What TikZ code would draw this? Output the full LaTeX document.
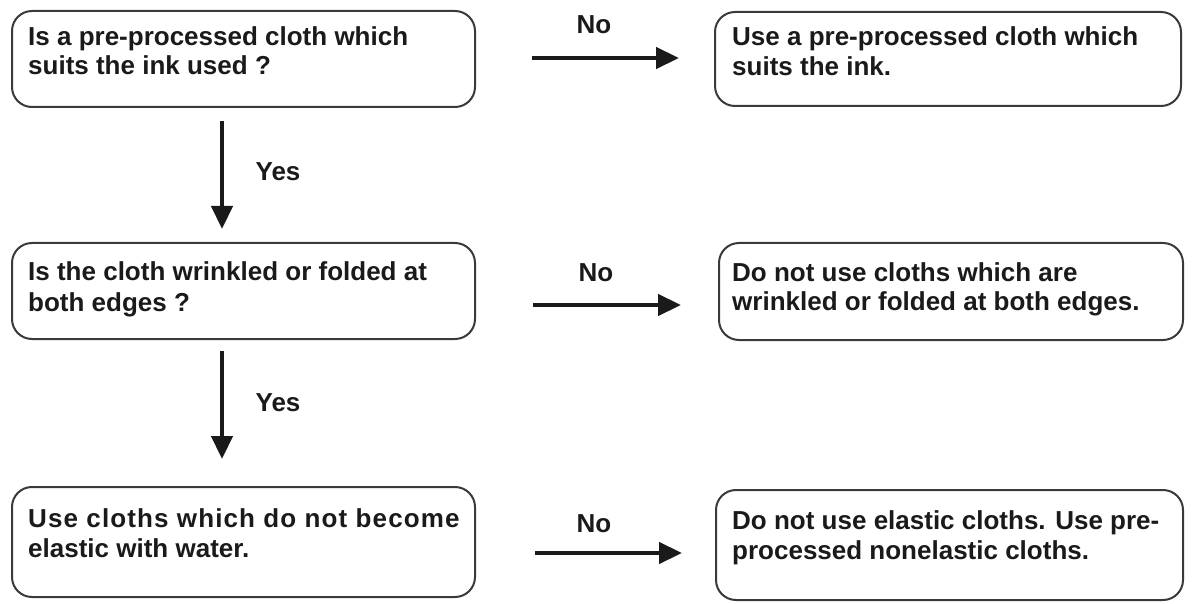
\documentclass[tikz,border=0pt]{standalone}
\usepackage{fontspec}
\setmainfont{Liberation Sans}
\usetikzlibrary{arrows.meta}
\definecolor{ink}{HTML}{1A1A1A}
\definecolor{edge}{HTML}{3A3A3A}
\begin{document}
\begin{tikzpicture}[x=1pt,y=-1pt,
  box/.style={draw=edge, line width=2pt, rounded corners=20pt, inner sep=0pt},
  txt/.style={anchor=base west, inner sep=0pt, align=left, text=ink,
    font=\fontsize{26}{30}\selectfont\bfseries},
  lbl/.style={anchor=base, inner sep=0pt, text=ink,
    font=\fontsize{26}{31}\selectfont\bfseries},
  arr/.style={draw=ink, line width=4.5pt, -{Triangle[length=23pt,width=21pt]}}]
\useasboundingbox (0,0) rectangle (1192,604);
% boxes
\node[box, minimum width=463pt, minimum height=96pt] (b1) at (243.5,59) {};
\node[box, minimum width=466pt, minimum height=94pt] (b2) at (948,59) {};
\node[box, minimum width=463pt, minimum height=96pt] (b3) at (243.5,291) {};
\node[box, minimum width=464pt, minimum height=97pt] (b4) at (951,291.5) {};
\node[box, minimum width=463pt, minimum height=110pt] (b5) at (243.5,542) {};
\node[box, minimum width=467pt, minimum height=110pt] (b6) at (949.5,545) {};
% texts (base anchor = baseline of the last line)
\node[txt, font=\fontsize{26}{29}\selectfont\bfseries] (t1) at (28,75) {Is a pre-processed cloth which\\suits the ink used ?};
\node[txt] (t2) at (732,76) {Use a pre-processed cloth which\\suits the ink.};
\node[txt, font=\fontsize{26}{31}\selectfont\bfseries] (t3) at (28,311) {Is the cloth wrinkled or folded at\\both edges ?};
\node[txt, font=\fontsize{26}{29}\selectfont\bfseries] (t4) at (732,310) {Do not use cloths which are\\wrinkled or folded at both edges.};
\node[txt] (t5) at (28,557) {{\addfontfeature{LetterSpace=4.3}Use cloths which do not become}\\elastic with water.};
\node[txt] (t6) at (732,559) {Do not use elastic cloths. Use pre-\\processed nonelastic cloths.};
% labels
\node[lbl] (n1) at (594,34) {No};
\node[lbl] (n2) at (596,281) {No};
\node[lbl] (n3) at (594,532) {No};
\node[lbl] (y1) at (278,181) {Yes};
\node[lbl] (y2) at (278,411) {Yes};
% connectors
\coordinate (s1) at ([yshift=1pt]b1.east);
\draw[arr, shorten <=56pt, shorten >=35pt] (s1) -- (s1 -| b2.west);
\coordinate (s2) at ([yshift=-14pt]b3.east);
\draw[arr, shorten <=57pt, shorten >=37pt] (s2) -- (s2 -| b4.west);
\coordinate (s3) at ([yshift=-11pt]b5.east);
\draw[arr, shorten <=59pt, shorten >=33pt] (s3) -- (s3 -| b6.west);
\coordinate (v1) at ([xshift=-21.5pt]b1.south);
\draw[arr, shorten <=13pt, shorten >=13pt] (v1) -- (v1 |- b3.north);
\coordinate (v2) at ([xshift=-21.5pt]b3.south);
\draw[arr, shorten <=11pt, shorten >=27pt] (v2) -- (v2 |- b5.north);
\end{tikzpicture}
\end{document}
